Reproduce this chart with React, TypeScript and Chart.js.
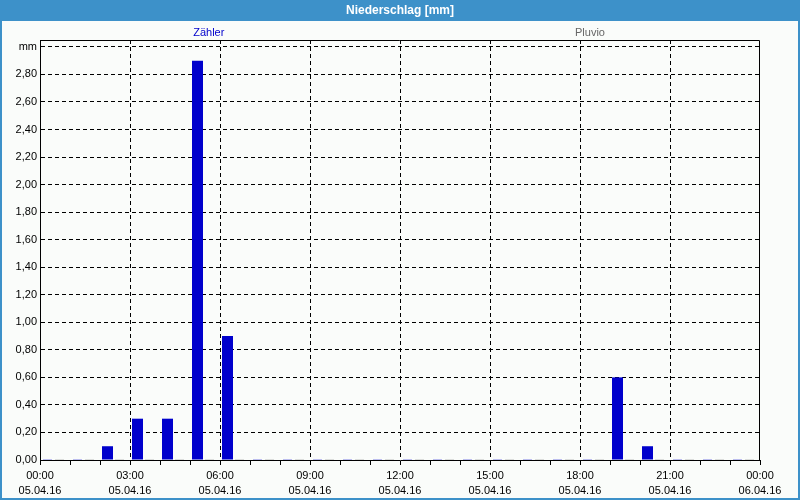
import React, { useEffect, useRef } from 'react';
import { Chart, registerables } from 'chart.js';

Chart.register(...registerables);

// ---- data ----
const chartTitle = 'Niederschlag [mm]';
const seriesNames = ['Zähler', 'Pluvio'];
const hourSlots = [0, 1, 2, 3, 4, 5, 6, 7, 8, 9, 10, 11, 12, 13, 14, 15, 16, 17, 18, 19, 20, 21, 22, 23];
const zaehlerValues = [0, 0, 0.1, 0.3, 0.3, 2.9, 0.9, 0, 0, 0, 0, 0, 0, 0, 0, 0, 0, 0, 0, 0.6, 0.1, 0, 0, 0];
const pluvioValues = [0, 0, 0, 0, 0, 0, 0, 0, 0, 0, 0, 0, 0, 0, 0, 0, 0, 0, 0, 0, 0, 0, 0, 0];
const xTickHours = [0, 1, 2, 3, 4, 5, 6, 7, 8, 9, 10, 11, 12, 13, 14, 15, 16, 17, 18, 19, 20, 21, 22, 23, 24];
const timeTickLabels = ['00:00', '03:00', '06:00', '09:00', '12:00', '15:00', '18:00', '21:00', '00:00'];
const dateTickLabels = ['05.04.16', '05.04.16', '05.04.16', '05.04.16', '05.04.16', '05.04.16', '05.04.16', '05.04.16', '06.04.16'];
const yTickValues = [0, 0.2, 0.4, 0.6, 0.8, 1.0, 1.2, 1.4, 1.6, 1.8, 2.0, 2.2, 2.4, 2.6, 2.8, 3.0];
const yUnitLabel = 'mm';

// ---- style ----
const FONT = 'Liberation Sans';
const BG = '#fafcfa';
const FRAME_BLUE = '#3d91c9';
const ZAEHLER_COLOR = '#0000cc';
const PLUVIO_COLOR = '#808080';
const LEGEND_COLORS = ['#0000cc', '#666666'];
const BAR_OFFSET = 0.45; // bar group position within the hour slot

const framePlugin = {
  id: 'framePlugin',
  beforeDraw(chart: any) {
    const { ctx, width, height } = chart;
    ctx.save();
    ctx.fillStyle = BG;
    ctx.fillRect(0, 0, width, height);
    ctx.fillStyle = FRAME_BLUE;
    ctx.fillRect(0, 0, width, 21);
    ctx.fillRect(0, 0, 2, height);
    ctx.fillRect(width - 2, 0, 2, height);
    ctx.fillRect(0, height - 2, width, 2);
    ctx.fillStyle = '#ffffff';
    ctx.font = `bold 12px "${FONT}"`;
    ctx.textAlign = 'center';
    ctx.textBaseline = 'middle';
    ctx.fillText(chartTitle, width / 2, 10.5);
    ctx.font = `11px "${FONT}"`;
    const legendX = [width * 0.261, width * 0.7375];
    seriesNames.forEach((n, i) => {
      ctx.fillStyle = LEGEND_COLORS[i];
      ctx.fillText(n, legendX[i], 32.5);
    });
    ctx.restore();
  },
  afterDatasetsDraw(chart: any) {
    const { ctx, chartArea } = chart;
    ctx.save();
    ctx.strokeStyle = '#000';
    ctx.lineWidth = 1;
    ctx.beginPath();
    ctx.moveTo(chartArea.left, chartArea.top + 0.5);
    ctx.lineTo(chartArea.right - 0.5, chartArea.top + 0.5);
    ctx.lineTo(chartArea.right - 0.5, chartArea.bottom + 1);
    ctx.stroke();
    ctx.restore();
  },
};

const zeroInset = (ctx: any) => {
  const v = ctx.raw && typeof ctx.raw === 'object' ? ctx.raw.y : ctx.raw;
  return v === 0 ? { left: 1, right: 1, top: 0, bottom: 0 } : 0;
};

export default function App() {
  const canvasRef = useRef<HTMLCanvasElement | null>(null);

  useEffect(() => {
    document.body.style.margin = '0';
    const canvas = canvasRef.current;
    if (!canvas) return;
    const chart = new Chart(canvas, {
      type: 'bar',
      data: {
        datasets: [
          {
            label: seriesNames[0],
            data: hourSlots.map((h, i) => ({ x: h + BAR_OFFSET, y: zaehlerValues[i] })),
            backgroundColor: ZAEHLER_COLOR,
            borderColor: BG,
            borderWidth: zeroInset as any,
            borderSkipped: false,
          },
          {
            label: seriesNames[1],
            data: hourSlots.map((h, i) => ({ x: h + BAR_OFFSET, y: pluvioValues[i] })),
            backgroundColor: PLUVIO_COLOR,
            borderColor: BG,
            borderWidth: zeroInset as any,
            borderSkipped: false,
          },
        ],
      },
      options: {
        responsive: false,
        animation: false,
        devicePixelRatio: 1,
        layout: { padding: { top: 40, right: 40, left: 0, bottom: 0 } },
        plugins: {
          legend: { display: false },
          title: { display: false },
          tooltip: { enabled: false },
        },
        datasets: {
          bar: {
            categoryPercentage: 0.8,
            barPercentage: 11 / 12,
            minBarLength: 1,
          },
        },
        scales: {
          x: {
            type: 'linear',
            min: 0,
            max: 24,
            offset: false,
            grid: {
              offset: false,
              color: (c: any) => {
                const v = c.tick ? c.tick.value : 0;
                return v % 3 === 0 && v !== 0 && v !== 24 ? '#000' : 'rgba(0,0,0,0)';
              },
              tickColor: '#000',
              tickLength: 5,
              lineWidth: 1,
            },
            border: { display: true, color: '#000', dash: [4, 3] },
            ticks: {
              autoSkip: false,
              maxRotation: 0,
              minRotation: 0,
              padding: 4,
              color: '#000',
              font: { family: FONT, size: 11, lineHeight: 1.32 },
              callback: (value: any) => {
                const v = Number(value);
                if (v % 3 !== 0) return '';
                const k = v / 3;
                return [timeTickLabels[k], dateTickLabels[k]];
              },
            },
            afterBuildTicks: (scale: any) => {
              scale.ticks = xTickHours.map((v) => ({ value: v }));
            },
            afterFit: (scale: any) => {
              scale.height = 40;
            },
          },
          y: {
            min: 0,
            max: 3.05,
            grid: {
              drawTicks: false,
              color: (c: any) => (c.tick && c.tick.value === 0 ? 'rgba(0,0,0,0)' : '#000'),
              lineWidth: 1,
            },
            border: { display: true, color: '#000', dash: [4, 3] },
            ticks: {
              padding: 3,
              color: '#000',
              font: { family: FONT, size: 11 },
              callback: (value: any) => {
                const v = Number(value);
                if (v >= 3 - 1e-9) return yUnitLabel;
                return v.toFixed(2).replace('.', ',');
              },
            },
            afterBuildTicks: (scale: any) => {
              scale.ticks = yTickValues.map((v) => ({ value: v }));
            },
            afterFit: (scale: any) => {
              scale.width = 40;
            },
          },
        },
      } as any,
      plugins: [framePlugin],
    });
    return () => chart.destroy();
  }, []);

  return (
    <div style={{ width: 800, height: 500 }}>
      <canvas ref={canvasRef} width={800} height={500} style={{ display: 'block' }} />
    </div>
  );
}
